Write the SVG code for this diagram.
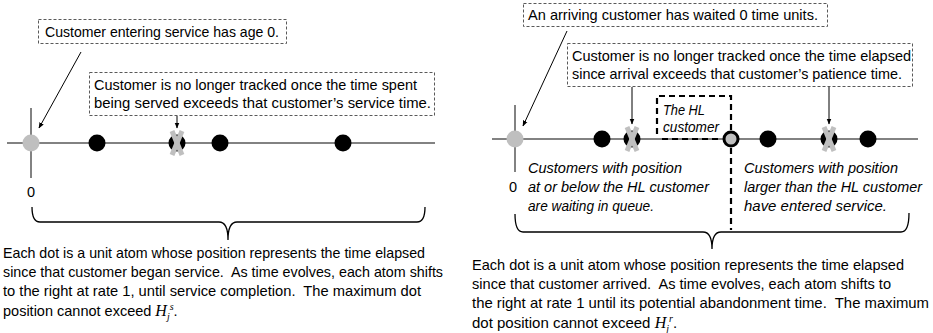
<svg xmlns="http://www.w3.org/2000/svg" width="933" height="333" viewBox="0 0 933 333">
<defs>
<marker id="ah" viewBox="0 0 10 10" refX="9" refY="5" markerWidth="6" markerHeight="6" orient="auto"><path d="M0,1 L10,5 L0,9 z" fill="#000"/></marker>
<style>
text{font-family:"Liberation Sans",Arial,sans-serif;font-size:14.5px;fill:#000}
.r{font-size:15px}
.it{font-style:italic;font-size:14.5px}
.hlt{font-style:italic;font-size:14px}
.callout{fill:#fff;stroke:#595959;stroke-width:1;stroke-dasharray:3,2}
.axis{stroke:#595959;stroke-width:1.5}
.conn{stroke:#000;stroke-width:1;fill:none}
.brace{stroke:#000;stroke-width:1.3;fill:none}
.dot{fill:#000}
.gdot{fill:#bfbfbf}
.xm{stroke:#bfbfbf;stroke-width:5;stroke-linecap:butt}
.hl{fill:none;stroke:#000;stroke-width:2.2;stroke-dasharray:6,4}
.math{font-family:"Liberation Serif",serif;font-style:italic;font-size:16px}
.sm{font-family:"Liberation Serif",serif;font-style:italic;font-size:10px}
</style>
</defs>

<!-- LEFT PANEL -->
<g id="left-axis">
<line class="axis" x1="7" y1="143" x2="435" y2="143"/>
<line class="axis" x1="31" y1="108" x2="31" y2="178"/>
</g>
<g id="left-dot0"><circle class="gdot" cx="31" cy="143" r="8.5"/></g>
<g id="left-dot1"><circle class="dot" cx="97" cy="143" r="8.5"/></g>
<g id="left-dotx"><circle class="dot" cx="177" cy="143" r="8.5"/><line class="xm" x1="172" y1="131" x2="182" y2="155"/><line class="xm" x1="182" y1="131" x2="172" y2="155"/></g>
<g id="left-dot2"><circle class="dot" cx="220" cy="143" r="8.5"/></g>
<g id="left-dot3"><circle class="dot" cx="343" cy="143" r="8.5"/></g>
<g id="left-zero"><text x="31" y="197" text-anchor="middle">0</text></g>

<g id="left-callout1">
<rect class="callout" x="38.5" y="19.5" width="248" height="24"/>
<text x="45" y="37" textLength="234" lengthAdjust="spacingAndGlyphs">Customer entering service has age 0.</text>
</g>
<g id="left-callout2">
<rect class="callout" x="89.5" y="72.5" width="345" height="43"/>
<text x="94" y="90" textLength="323" lengthAdjust="spacingAndGlyphs">Customer is no longer tracked once the time spent</text>
<text x="94" y="108" textLength="337" lengthAdjust="spacingAndGlyphs">being served exceeds that customer’s service time.</text>
</g>

<g id="left-brace">
<path class="brace" d="M32,207 Q32,222 40,222 L219,222 Q228,222 228,240 Q228,222 237,222 L417,222 Q425,222 425,207"/>
</g>
<g id="left-caption">
<text x="3" y="258" textLength="422" lengthAdjust="spacingAndGlyphs">Each dot is a unit atom whose position represents the time elapsed</text>
<text x="3" y="277" xml:space="preserve" textLength="440" lengthAdjust="spacingAndGlyphs">since that customer began service.  As time evolves, each atom shifts</text>
<text x="3" y="296" xml:space="preserve" textLength="418" lengthAdjust="spacingAndGlyphs">to the right at rate 1, until service completion.  The maximum dot</text>
<text x="3" y="316">position cannot exceed <tspan class="math">H</tspan><tspan class="sm" dy="4">j</tspan><tspan class="sm" dy="-10">s</tspan><tspan dy="6">.</tspan></text>
</g>

<!-- RIGHT PANEL -->
<g id="right-axis">
<line class="axis" x1="492" y1="139" x2="918" y2="139"/>
<line class="axis" x1="515" y1="105" x2="515" y2="172"/>
</g>
<g id="right-hlbox">
<path class="hl" d="M657,134 L657,96 L731,96 L731,131"/>
<line class="hl" x1="662" y1="139" x2="722" y2="139"/>
<line class="hl" x1="731" y1="148" x2="731" y2="230"/>
<text class="hlt" x="663" y="115" textLength="42" lengthAdjust="spacingAndGlyphs">The HL</text>
<text class="hlt" x="663" y="132" textLength="56" lengthAdjust="spacingAndGlyphs">customer</text>
</g>
<g id="right-dot0"><circle class="gdot" cx="515" cy="139" r="8.5"/></g>
<g id="right-dot1"><circle class="dot" cx="602" cy="139" r="8.5"/></g>
<g id="right-dotx1"><circle class="dot" cx="632" cy="139" r="8.5"/><line class="xm" x1="627" y1="127" x2="637" y2="151"/><line class="xm" x1="637" y1="127" x2="627" y2="151"/></g>
<g id="right-hldot"><circle cx="731" cy="139" r="7" fill="#bfbfbf" stroke="#000" stroke-width="3"/></g>
<g id="right-dot2"><circle class="dot" cx="768" cy="139" r="8.5"/></g>
<g id="right-dotx2"><circle class="dot" cx="829" cy="139" r="8.5"/><line class="xm" x1="824" y1="127" x2="834" y2="151"/><line class="xm" x1="834" y1="127" x2="824" y2="151"/></g>
<g id="right-dot3"><circle class="dot" cx="868" cy="139" r="8.5"/></g>
<g id="right-zero"><text x="513" y="192" text-anchor="middle">0</text></g>

<g id="right-callout1">
<rect class="callout" x="523.5" y="3.5" width="304" height="23"/>
<text x="528" y="20" textLength="290" lengthAdjust="spacingAndGlyphs">An arriving customer has waited 0 time units.</text>
</g>
<g id="right-callout2">
<rect class="callout" x="567.5" y="43.5" width="345" height="43"/>
<text x="572" y="61" textLength="339" lengthAdjust="spacingAndGlyphs">Customer is no longer tracked once the time elapsed</text>
<text x="572" y="79" textLength="330" lengthAdjust="spacingAndGlyphs">since arrival exceeds that customer’s patience time.</text>
</g>

<g id="right-label-left">
<text class="it" x="528" y="173" textLength="154" lengthAdjust="spacingAndGlyphs">Customers with position</text>
<text class="it" x="528" y="192" textLength="181" lengthAdjust="spacingAndGlyphs">at or below the HL customer</text>
<text class="it" x="528" y="211" textLength="126" lengthAdjust="spacingAndGlyphs">are waiting in queue.</text>
</g>
<g id="right-label-right">
<text class="it" x="744" y="173" textLength="154" lengthAdjust="spacingAndGlyphs">Customers with position</text>
<text class="it" x="744" y="192" textLength="178" lengthAdjust="spacingAndGlyphs">larger than the HL customer</text>
<text class="it" x="744" y="211" textLength="143" lengthAdjust="spacingAndGlyphs">have entered service.</text>
</g>

<g id="right-brace">
<path class="brace" d="M515,214 Q515,232 523,232 L703,232 Q712,232 712,249 Q712,232 721,232 L901,232 Q909,232 909,213"/>
</g>
<g id="right-caption">
<text class="r" x="472" y="270" textLength="432" lengthAdjust="spacingAndGlyphs">Each dot is a unit atom whose position represents the time elapsed</text>
<text class="r" x="472" y="289" xml:space="preserve" textLength="419" lengthAdjust="spacingAndGlyphs">since that customer arrived.  As time evolves, each atom shifts to</text>
<text class="r" x="472" y="308" xml:space="preserve" textLength="457" lengthAdjust="spacingAndGlyphs">the right at rate 1 until its potential abandonment time.  The maximum</text>
<text class="r" x="472" y="328">dot position cannot exceed <tspan class="math">H</tspan><tspan class="sm" dy="4">j</tspan><tspan class="sm" dy="-10">r</tspan><tspan dy="6">.</tspan></text>
</g>

<g id="connectors">
<line class="conn" x1="81" y1="52" x2="39" y2="128" marker-end="url(#ah)"/>
<line class="conn" x1="177" y1="116" x2="177" y2="128" marker-end="url(#ah)"/>
<line class="conn" x1="567" y1="31" x2="523" y2="126" marker-end="url(#ah)"/>
<line class="conn" x1="632" y1="87" x2="632" y2="124" marker-end="url(#ah)"/>
<line class="conn" x1="829" y1="87" x2="829" y2="124" marker-end="url(#ah)"/>
</g>
</svg>
